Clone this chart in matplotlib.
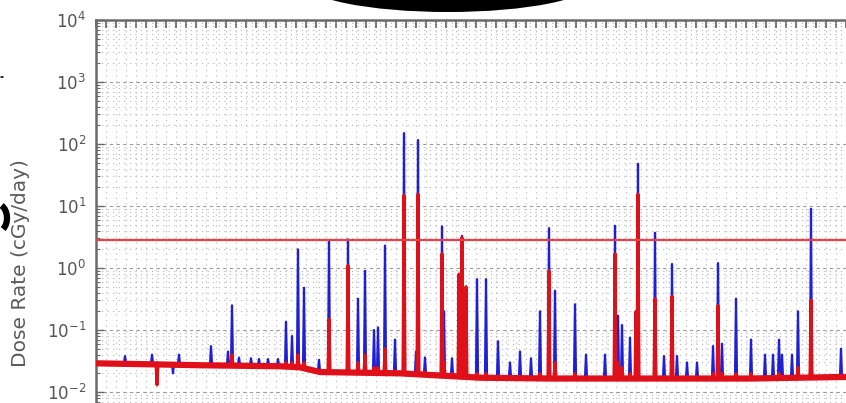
import numpy as np
import matplotlib
matplotlib.use("Agg")
import matplotlib.pyplot as plt
from matplotlib.ticker import LogLocator, MultipleLocator, NullFormatter
from matplotlib.patches import Ellipse, Circle, Arc

# ---------------- data (x in days, y in cGy/day) ----------------
base_x = [0.0, 5.4, 10.4, 18.4, 20.4, 22.4, 30.4, 38.4, 45.4, 55.4, 65.4, 75.0, 79.2]
base_blue = [0.030, 0.029, 0.028, 0.027, 0.026, 0.022, 0.021, 0.018, 0.017, 0.017, 0.017, 0.018, 0.018]
base_red = [0.029, 0.028, 0.027, 0.026, 0.025, 0.021, 0.020, 0.017, 0.0165, 0.0165, 0.0165, 0.0175, 0.0175]

spike_x = [2.9, 5.6, 6.1, 7.7, 8.3, 11.5, 13.2, 13.6, 14.3, 15.5, 16.3, 17.2, 18.2,
           19.0, 19.6, 20.2, 20.8, 22.3, 23.3, 25.2, 26.2, 26.9, 27.8, 28.2, 28.9,
           29.9, 30.8, 32.0, 32.2, 32.9, 34.6, 34.8, 35.6, 36.3, 36.6, 37.0, 38.1,
           39.0, 40.2, 41.4, 42.4, 43.5, 44.4, 45.3, 45.9, 47.9, 49.0, 50.9, 51.9,
           52.2, 52.6, 53.4, 54.0, 54.2, 55.9, 56.8, 57.6, 58.1, 59.1, 60.1, 61.7,
           62.2, 62.6, 64.0, 65.5, 66.9, 67.7, 68.3, 68.6, 69.6, 70.2, 71.5, 74.5]
spike_blue = [0.038, 0.040, 0.030, 0.020, 0.040, 0.055, 0.045, 0.25, 0.036, 0.035, 0.034, 0.034, 0.034,
              0.135, 0.08, 2.0, 0.48, 0.033, 2.8, 2.9, 0.32, 0.9, 0.10, 0.11, 2.3,
              0.07, 150.0, 0.045, 116.0, 0.036, 4.7, 0.2, 0.035, 0.8, 3.3, 0.5, 0.66,
              0.66, 0.066, 0.03, 0.045, 0.035, 0.2, 4.4, 0.43, 0.26, 0.04, 0.04, 4.8,
              0.17, 0.12, 0.075, 0.2, 48.0, 3.7, 0.038, 1.16, 0.038, 0.03, 0.03, 0.055,
              1.2, 0.06, 0.32, 0.07, 0.04, 0.04, 0.07, 0.04, 0.04, 0.2, 9.0, 0.05]
spike_red = [0.03, 0.03, 0.013, 0.026, 0.028, 0.028, 0.028, 0.04, 0.027, 0.027, 0.027, 0.027, 0.026,
             0.03, 0.03, 0.04, 0.03, 0.022, 0.15, 1.1, 0.03, 0.04, 0.025, 0.025, 0.05,
             0.022, 15.0, 0.021, 15.6, 0.021, 1.7, 0.03, 0.02, 0.8, 3.1, 0.5, 0.02,
             0.02, 0.018, 0.018, 0.018, 0.017, 0.02, 0.9, 0.03, 0.02, 0.017, 0.017, 1.7,
             0.03, 0.025, 0.02, 0.2, 15.6, 0.32, 0.017, 0.35, 0.017, 0.017, 0.017, 0.02,
             0.25, 0.02, 0.02, 0.02, 0.017, 0.017, 0.02, 0.017, 0.017, 0.025, 0.3, 0.018]

threshold = 2.8
yticks = [1e-2, 1e-1, 1e0, 1e1, 1e2, 1e3, 1e4]
ylabel = "Dose Rate (cGy/day)"


def build(bx, bv, sx, sv, w=0.1):
    xs = list(bx)
    ys = list(bv)
    for x, v in zip(sx, sv):
        b = float(np.interp(x, bx, bv))
        xs += [x - w, x, x + w]
        ys += [b, v, b]
    order = np.argsort(xs, kind="stable")
    return np.array(xs)[order], np.array(ys)[order]


W, H = 846, 403
fig = plt.figure(figsize=(W / 100, H / 100), dpi=100)

left_px, top_px = 96, 20
right_px = 888
dec_px = 62.0
ymin_exp = -2.25
bottom_px = top_px + (4 - ymin_exp) * dec_px
ax = fig.add_axes([left_px / W, 1 - bottom_px / H, (right_px - left_px) / W, (bottom_px - top_px) / H])

ax.set_yscale("log")
ax.set_ylim(10 ** ymin_exp, 1e4)
ax.set_xlim(0, (right_px - left_px) / 10.0)

gcol = "#b4b4b4"
ax.yaxis.set_major_locator(LogLocator(base=10, numticks=20))
ax.yaxis.set_minor_locator(LogLocator(base=10, subs=np.arange(2, 10), numticks=100))
ax.yaxis.set_minor_formatter(NullFormatter())
ax.xaxis.set_major_locator(MultipleLocator(1))
ax.grid(True, which="major", axis="y", linestyle=(0, (3, 3)), color="#9a9a9a", linewidth=0.8)
ax.grid(True, which="minor", axis="y", linestyle=(0, (1, 4)), color=gcol, linewidth=0.8)
ax.grid(True, which="major", axis="x", linestyle=(0, (1, 4)), color=gcol, linewidth=0.8)

bxb, byb = build(base_x, base_blue, spike_x, spike_blue)
bxr, byr = build(base_x, base_red, spike_x, spike_red)
ax.plot(bxb, byb, color="#1f1fd6", linewidth=1.6, zorder=3)
ax.plot(base_x, base_red, color="#e0101a", linewidth=4.5, zorder=4, solid_capstyle="butt")
ax.plot(bxr, byr, color="#e0101a", linewidth=2.2, zorder=4)
ax.axhline(threshold, color="#e8404a", linewidth=1.6, zorder=5)

for s in ["right", "bottom"]:
    ax.spines[s].set_visible(False)
for s in ["top", "left"]:
    ax.spines[s].set_color("#6a6a6a")
    ax.spines[s].set_linewidth(1.8)

ax.xaxis.set_ticks_position("top")
ax.tick_params(axis="x", which="major", direction="in", length=6, width=1.3, color="#6a6a6a",
               labeltop=False, labelbottom=False)
ax.tick_params(axis="y", which="major", direction="in", length=6, width=1.0, color="#6a6a6a",
               labelsize=12, labelcolor="#555555", pad=7)
ax.tick_params(axis="y", which="minor", direction="in", length=3, width=0.8, color="#6a6a6a")
ax.set_yticks(yticks)

fig.text(21 / W, 1 - 263 / H, ylabel, rotation=90, ha="center", va="center",
         fontsize=14.5, color="#5a5a5a")

# decorations cropped from neighbouring panels
fig.patches.append(Ellipse((448 / W, 1 + 18 / H), 290 / W, 60 / H, transform=fig.transFigure,
                           facecolor="black", edgecolor="none", zorder=10))
fig.patches.append(Circle((2 / W, 1 - 77 / H), 1.8 / W, transform=fig.transFigure,
                          facecolor="black", edgecolor="none"))
fig.patches.append(Arc((-3 / W, 1 - 218 / H), 20 / W, 28 / H, theta1=-75, theta2=80,
                       transform=fig.transFigure, color="black", linewidth=4.5))

fig.savefig("out.png", dpi=100)
